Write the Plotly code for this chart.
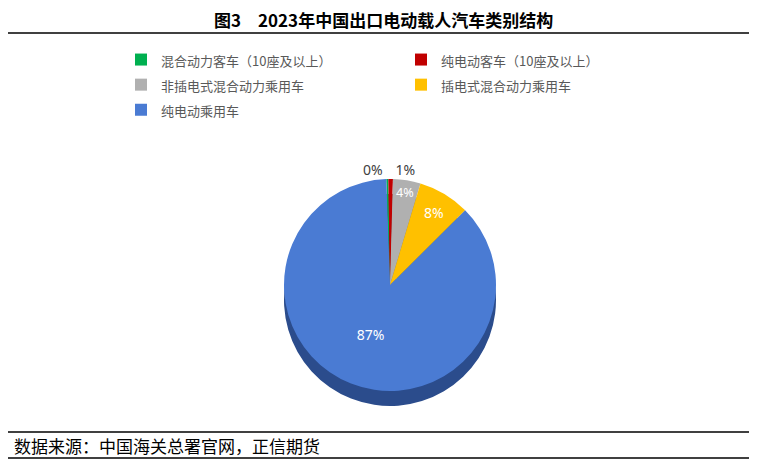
import plotly.graph_objects as go

# 2023年中国出口电动载人汽车类别结构 (%)
categories = ["混合动力客车（10座及以上）", "纯电动客车（10座及以上）",
              "非插电式混合动力乘用车", "插电式混合动力乘用车", "纯电动乘用车"]
shares = [0.3, 0.7, 4.2, 7.9, 86.9]

top_colors = ["#00B050", "#C00000", "#B0B0B0", "#FFC000", "#4A7BD3"]
side_colors = ["#007A38", "#7E0000", "#7A7A7A", "#B38600", "#2B4C8C"]

W, H = 757, 466
ML, MR = 30, 27
PW = W - ML - MR
OFF = 8  # page body margin, positions below are screen pixels


def px_x(x):
    return (x - OFF - ML) / PW


def px_y(y):
    return 1 - (y - OFF) / H


cx, cy, r = 390, 285, 106
depth = 15

# legend text drawn small inside a taller legend row
labels = ['<span style="font-size:13px">' + c + '</span>' for c in categories]

fig = go.Figure()

# darker copy underneath, shifted down, gives the pie some thickness
fig.add_trace(go.Pie(
    labels=labels, values=shares, sort=False, direction="clockwise",
    rotation=-2,
    marker=dict(colors=side_colors, line=dict(width=0)),
    textinfo="none", hoverinfo="skip", showlegend=False,
    domain=dict(x=[px_x(cx - r), px_x(cx + r)],
                y=[px_y(cy + r + depth), px_y(cy - r + depth)]),
))

fig.add_trace(go.Pie(
    labels=labels, values=shares, sort=False, direction="clockwise",
    rotation=-2,
    marker=dict(colors=top_colors, line=dict(width=0)),
    texttemplate="%{percent:.0%}",
    textposition=["outside", "outside", "inside", "inside", "inside"],
    insidetextorientation="horizontal",
    textfont=dict(size=14, family="Noto Sans, DejaVu Sans",
                  color=["#404040", "#404040", "white", "white", "white"]),
    outsidetextfont=dict(size=14, family="Noto Sans, DejaVu Sans", color="#404040"),
    hovertemplate="%{label}: %{percent}<extra></extra>",
    domain=dict(x=[px_x(cx - r), px_x(cx + r)],
                y=[px_y(cy + r), px_y(cy - r)]),
))

line = dict(color="black", width=1.3)
shapes = []
for y in [6, 33, 432, 458]:
    shapes.append(dict(type="line", xref="paper", yref="paper",
                       x0=px_x(5), x1=px_x(752), y0=px_y(y), y1=px_y(y),
                       line=line))

annotations = [
    dict(text="<b>图3　2023年中国出口电动载人汽车类别结构</b>",
         xref="paper", yref="paper", x=px_x(383), y=px_y(19),
         showarrow=False, xanchor="center", yanchor="middle",
         font=dict(size=17, color="black", family="Noto Sans CJK SC")),
    dict(text="数据来源：中国海关总署官网，正信期货",
         xref="paper", yref="paper", x=px_x(12), y=px_y(445),
         showarrow=False, xanchor="left", yanchor="middle",
         font=dict(size=17, color="black", family="Noto Sans CJK SC")),
]

fig.update_layout(
    width=W, height=H,
    margin=dict(l=ML, r=MR, t=0, b=0),
    paper_bgcolor="white", plot_bgcolor="white",
    shapes=shapes, annotations=annotations,
    legend=dict(orientation="h", x=px_x(121), y=px_y(42),
                xanchor="left", yanchor="top",
                entrywidth=235, entrywidthmode="pixels",
                font=dict(size=17, color="#595959", family="Noto Sans CJK SC")),
)

fig.write_html("out.html")
